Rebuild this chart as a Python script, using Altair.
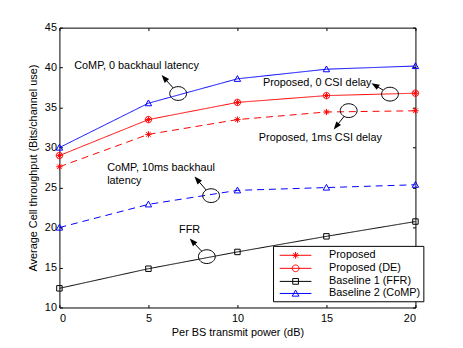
import numpy as np
import pandas as pd
import altair as alt

# ---------------- data ----------------
x_db = [0, 5, 10, 15, 20]
proposed_0csi = [29.0, 33.5, 35.65, 36.5, 36.8]
proposed_1ms = [27.6, 31.65, 33.5, 34.45, 34.6]
comp_0lat = [30.0, 35.55, 38.6, 39.8, 40.2]
comp_10ms = [20.0, 22.9, 24.65, 25.0, 25.35]
ffr_vals = [12.4, 14.85, 16.95, 18.9, 20.75]

series_names = ["Proposed", "Proposed (DE)", "Baseline 1 (FFR)", "Baseline 2 (CoMP)"]
series_colors = ["#ff0000", "#ff0000", "#000000", "#0000ff"]

ann_text = ["CoMP, 0 backhaul latency", "Proposed, 0 CSI delay", "Proposed, 1ms CSI delay",
            "CoMP, 10ms backhaul", "latency", "FFR"]
ann_text_x = [0.83, 11.43, 11.2, 2.68, 2.68, 6.72]
ann_text_y = [40.14, 38.08, 31.24, 27.41, 25.84, 19.7]

ell_x = [6.67, 18.57, 16.25, 8.52, 8.28]
ell_y = [36.76, 36.68, 34.62, 23.99, 16.36]
tip_x = [5.74, 17.53, 15.41, 7.59, 7.32]
tip_y = [39.07, 38.05, 32.27, 26.37, 18.63]

# ---------------- layout constants ----------------
W, H = 360, 283
XMIN, XMAX, YMIN, YMAX = 0, 20, 10, 45
PX_X = W / (XMAX - XMIN)
PX_Y = H / (YMAX - YMIN)
FONT = "Liberation Sans"

# ---------------- tables ----------------
curves = [
    ("p0", "Proposed", "solid", proposed_0csi),
    ("p1", "Proposed", "dashed", proposed_1ms),
    ("c0", "Baseline 2 (CoMP)", "solid", comp_0lat),
    ("c10", "Baseline 2 (CoMP)", "dashed", comp_10ms),
    ("ffr", "Baseline 1 (FFR)", "solid", ffr_vals),
]
rows = []
for cid, s, st, vals in curves:
    for xv, yv in zip(x_db, vals):
        rows.append(dict(curve=cid, series=s, style=st, x=xv, y=yv))
line_df = pd.DataFrame(rows)

curve_vals = {c[0]: c[3] for c in curves}
marker_sets = [("p0", "Proposed"), ("p1", "Proposed"), ("c0", "Baseline 2 (CoMP)"),
               ("c10", "Baseline 2 (CoMP)"), ("ffr", "Baseline 1 (FFR)"), ("p0", "Proposed (DE)")]
mrows = []
for i, (cid, s) in enumerate(marker_sets):
    for xv, yv in zip(x_db, curve_vals[cid]):
        mrows.append(dict(curve=cid, series=s, x=xv, y=yv, order=i))
marker_df = pd.DataFrame(mrows)

# marker shapes (unit paths)
def fmt(v):
    return f"{v:.3f}"

star = [[(-1, 0), (1, 0)], [(0, -1), (0, 1)], [(-0.7, -0.7), (0.7, 0.7)], [(-0.7, 0.7), (0.7, -0.7)]]
circle_pts = [(np.cos(t), np.sin(t)) for t in np.linspace(0, 2 * np.pi, 25)]
square_pts = [(-0.85, -0.85), (0.85, -0.85), (0.85, 0.85), (-0.85, 0.85), (-0.85, -0.85)]
tri_pts = [(0, -1), (1, 0.8), (-1, 0.8), (0, -1)]
marker_polys = {
    "Proposed": star,
    "Proposed (DE)": [circle_pts],
    "Baseline 1 (FFR)": [square_pts],
    "Baseline 2 (CoMP)": [tri_pts],
}

def poly_path(polys, scale=1.0, line_half=None):
    parts = []
    if line_half is not None:
        parts.append(f"M {fmt(-line_half)} 0 L {fmt(line_half)} 0")
    for poly in polys:
        p = poly[0]
        seg = f"M {fmt(p[0]*scale)} {fmt(p[1]*scale)}"
        for q in poly[1:]:
            seg += f" L {fmt(q[0]*scale)} {fmt(q[1]*scale)}"
        parts.append(seg)
    return " ".join(parts)

marker_paths = [poly_path(marker_polys[s]) for s in series_names]
LEG_SIZE = 169  # sqrt -> 13, path scale 6.5
leg_scale = np.sqrt(LEG_SIZE) / 2
legend_paths = [poly_path(marker_polys[s], scale=3.4 / leg_scale, line_half=16 / leg_scale) for s in series_names]

# annotation geometry (pixel-space helpers)
ex, ey = np.array(ell_x), np.array(ell_y)
tx, ty = np.array(tip_x), np.array(tip_y)
dxp = (tx - ex) * PX_X
dyp = (ty - ey) * PX_Y
L = np.hypot(dxp, dyp)
ux, uy = dxp / L, dyp / L
RX, RY = 8.5, 7.0
r_edge = 1.0 / np.sqrt((ux / RX) ** 2 + (uy / RY) ** 2)
HEAD = 4.0
arrow_df = pd.DataFrame(dict(
    x0=ex + ux * r_edge / PX_X, y0=ey + uy * r_edge / PX_Y,
    x1=tx - ux * (HEAD * 1.4) / PX_X, y1=ty - uy * (HEAD * 1.4) / PX_Y,
    hx=tx - ux * HEAD / PX_X, hy=ty - uy * HEAD / PX_Y,
    angle=np.mod(np.degrees(np.arctan2(ux, uy)), 360),
))
ell_df = pd.DataFrame(dict(x=ell_x, y=ell_y))
text_df = pd.DataFrame(dict(x=ann_text_x, y=ann_text_y, t=ann_text))

# ---------------- scales / axes ----------------
xs = alt.Scale(domain=[XMIN, XMAX], nice=False, zero=False)
ys = alt.Scale(domain=[YMIN, YMAX], nice=False, zero=False)
xvals = [0, 5, 10, 15, 20]
yvals = [10, 15, 20, 25, 30, 35, 40, 45]

def tick_axis(orient, offset, values):
    return alt.Axis(orient=orient, offset=offset, values=values, labels=False, domain=False,
                    ticks=True, tickSize=3, tickColor="#000000", tickWidth=1, title=None, grid=False)

color_scale = alt.Scale(domain=series_names, range=series_colors)

lines = alt.Chart(line_df).mark_line(strokeWidth=1).encode(
    x=alt.X("x:Q", scale=xs, axis=alt.Axis(values=xvals, title="Per BS transmit power (dB)",
                                           tickSize=0, labelPadding=5, titlePadding=3, domain=False, grid=False)),
    y=alt.Y("y:Q", scale=ys, axis=alt.Axis(values=yvals, title="Average Cell throughput (Bits/channel use)",
                                           tickSize=0, labelPadding=3, titlePadding=6, domain=False, grid=False)),
    color=alt.Color("series:N", scale=color_scale, legend=None),
    strokeDash=alt.StrokeDash("style:N", scale=alt.Scale(domain=["solid", "dashed"], range=[[1, 0], [7, 5]]),
                              legend=None),
    detail="curve:N",
)

points = alt.Chart(marker_df).mark_point(filled=False, size=42, strokeWidth=1, opacity=1).encode(
    x=alt.X("x:Q", scale=xs, axis=tick_axis("top", -H, xvals)),
    y=alt.Y("y:Q", scale=ys, axis=tick_axis("right", -W, yvals)),
    color=alt.Color("series:N", scale=color_scale, legend=None),
    shape=alt.Shape("series:N", scale=alt.Scale(domain=series_names, range=marker_paths), legend=None),
    order="order:Q",
)

ellipse_path = "M -1 0 A 1 0.82 0 1 0 1 0 A 1 0.82 0 1 0 -1 0 Z"
ellipses = alt.Chart(ell_df).mark_point(shape=ellipse_path, size=289, filled=False, color="#000000",
                                        strokeWidth=1, opacity=1).encode(
    x=alt.X("x:Q", scale=xs, axis=tick_axis("bottom", -H, xvals)),
    y=alt.Y("y:Q", scale=ys, axis=tick_axis("left", -W, yvals)),
)

shafts = alt.Chart(arrow_df).mark_rule(color="#000000", strokeWidth=1).encode(
    x=alt.X("x0:Q", scale=xs, axis=None), y=alt.Y("y0:Q", scale=ys, axis=None),
    x2="x1:Q", y2="y1:Q",
)

head_path = "M 0 -1 L 0.75 1 L -0.75 1 Z"
heads = alt.Chart(arrow_df).mark_point(shape=head_path, size=(2 * HEAD) ** 2, filled=True,
                                       color="#000000", opacity=1).encode(
    x=alt.X("hx:Q", scale=xs, axis=None), y=alt.Y("hy:Q", scale=ys, axis=None),
    angle=alt.Angle("angle:Q", scale=None),
)

texts = alt.Chart(text_df).mark_text(align="left", baseline="middle", font=FONT, fontSize=11,
                                     color="#000000").encode(
    x=alt.X("x:Q", scale=xs, axis=None), y=alt.Y("y:Q", scale=ys, axis=None), text="t:N",
)

legend_opts = dict(
    title=None, orient="none", legendX=216, legendY=220.7, padding=2.5, strokeColor="#000000",
    fillColor="#ffffff", symbolStrokeWidth=1, symbolSize=LEG_SIZE, rowPadding=0.2,
    symbolOffset=13.3, labelOffset=26.8, labelFont=FONT, labelFontSize=11, labelColor="#000000",
    symbolFillColor="transparent", cornerRadius=0)

leg_df = pd.DataFrame(dict(series=series_names, x=[x_db[0]] * 4, y=[comp_0lat[0]] * 4))
legend_layer = alt.Chart(leg_df).mark_point(filled=False, size=LEG_SIZE, strokeWidth=1, opacity=0).encode(
    x=alt.X("x:Q", scale=xs, axis=None), y=alt.Y("y:Q", scale=ys, axis=None),
    color=alt.Color("series:N", scale=color_scale, legend=alt.Legend(**legend_opts)),
    shape=alt.Shape("series:N", scale=alt.Scale(domain=series_names, range=legend_paths),
                    legend=alt.Legend(**legend_opts)),
)

chart = alt.layer(lines, points, ellipses, shafts, heads, texts, legend_layer).resolve_scale(
    color="independent", shape="independent"
).resolve_axis(x="independent", y="independent").properties(
    width=W, height=H,
    autosize=alt.AutoSizeParams(type="none"),
    padding={"left": 52, "top": 18, "right": 40, "bottom": 30},
    background="#ffffff",
).configure_view(stroke="#000000", strokeWidth=1).configure_axis(
    labelFont=FONT, labelFontSize=11, labelColor="#000000", titleFont=FONT, titleFontSize=11,
    titleFontWeight="normal", titleColor="#000000",
)

chart.save("out.html", embed_options={"renderer": "svg", "actions": False})
